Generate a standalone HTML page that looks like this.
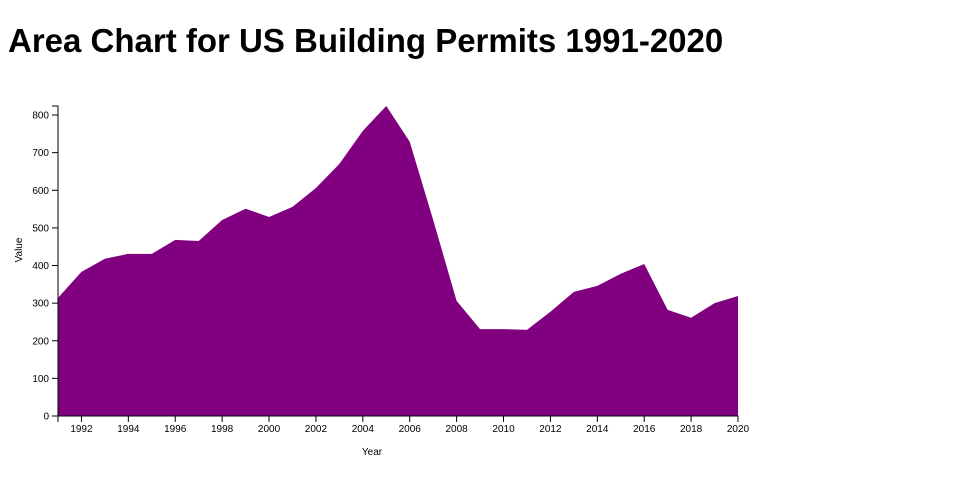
<!DOCTYPE html>
<html><head><meta charset="utf-8"><style>
body{margin:0;background:#fff;width:960px;height:500px;overflow:hidden}
h1{position:absolute;left:8px;top:22px;margin:0;font:bold 33px "Liberation Sans",sans-serif;color:#000}
svg{position:absolute;left:0;top:0}
text{font-family:"Liberation Sans",sans-serif;font-size:10px;fill:#000}
</style></head><body>
<h1>Area Chart for US Building Permits 1991-2020</h1>
<svg id="c" width="960" height="500"></svg>
<script>
const years=[1991,1992,1993,1994,1995,1996,1997,1998,1999,2000,2001,2002,2003,2004,2005,2006,2007,2008,2009,2010,2011,2012,2013,2014,2015,2016,2017,2018,2019,2020];
const values=[314,383,418,431,431,468,465,521,551,529,556,606,670,758,824,729,521,306,231,231,229,277,330,346,378,404,282,261,300,319];
const yTicks=[0,100,200,300,400,500,600,700,800];
const xTicks=[1992,1994,1996,1998,2000,2002,2004,2006,2008,2010,2012,2014,2016,2018,2020];
const NS="http://www.w3.org/2000/svg",svg=document.getElementById('c');
const x0=58,x1=738,y0=416,yTop=106,yMax=824;
const xs=v=>x0+(v-1991)/(2020-1991)*(x1-x0);
const ys=v=>y0-v/yMax*(y0-yTop);
function mk(t,a,p){const e=document.createElementNS(NS,t);for(const k in a)e.setAttribute(k,a[k]);(p||svg).appendChild(e);return e;}
let d=`M${xs(years[0])},${y0}`;
years.forEach((y,i)=>d+=`L${xs(y)},${ys(values[i])}`);
d+=`L${xs(years[years.length-1])},${y0}Z`;
const area=mk('path',{d:d,fill:'#800080'});


const ya=mk('path',{d:`M${x0-6},${yTop}H${x0}V${y0}H${x0-6}`,stroke:'#000',fill:'none'});


yTicks.forEach(t=>{const y=ys(t);mk('line',{x1:x0-6,x2:x0,y1:y,y2:y,stroke:'#000'});
const tx=mk('text',{x:x0-9,y:y+3.5,'text-anchor':'end'});tx.textContent=t;

});
const xa=mk('path',{d:`M${x0},${y0+6}V${y0}H${x1}V${y0+6}`,stroke:'#000',fill:'none'});


xTicks.forEach(t=>{const x=xs(t);mk('line',{x1:x,x2:x,y1:y0,y2:y0+6,stroke:'#000'});
const tx=mk('text',{x:x,y:y0+16,'text-anchor':'middle'});tx.textContent=t;

});
const xt=mk('text',{x:372,y:455,'text-anchor':'middle'});xt.textContent='Year';


const yt=mk('text',{x:0,y:0,'text-anchor':'middle',transform:'translate(22,250) rotate(-90)'});yt.textContent='Value';


</script>
</body></html>
